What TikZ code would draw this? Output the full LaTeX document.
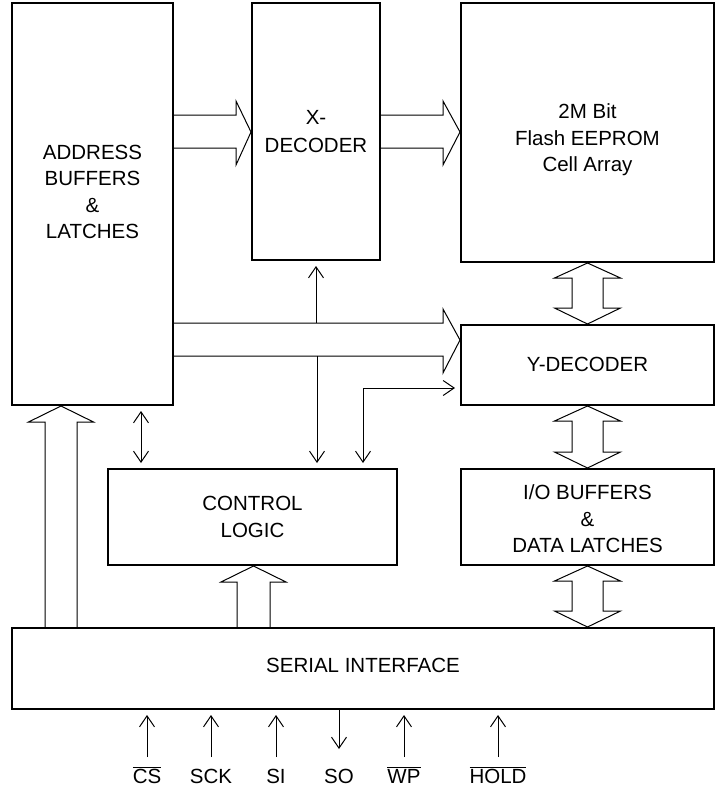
\documentclass[tikz,border=0pt]{standalone}
\usepackage{fontspec}
\setmainfont{Liberation Sans}
\usetikzlibrary{arrows.meta,calc}

\tikzset{
  block/.style={draw, line width=2pt, inner sep=0pt},
  blocktext/.style={align=center, inner sep=0pt, font=\fontsize{20.5}{26.5}\selectfont},
  bus/.style={line width=1pt, line join=miter},
  sig/.style={line width=1pt, -{Straight Barb[length=11pt,width=15pt]}},
  sigboth/.style={line width=1pt, {Straight Barb[length=11pt,width=15pt]}-{Straight Barb[length=11pt,width=15pt]}},
  pin/.style={font=\fontsize{20.5}{24}\selectfont, inner sep=0pt, anchor=base},
}

\begin{document}
\begin{tikzpicture}[x=1pt, y=-1pt]
    \useasboundingbox (0,0) rectangle (717,792);

    % blocks
    \node[block, minimum width=161pt, minimum height=402pt,
      label={[blocktext, yshift=12pt]center:ADDRESS\\BUFFERS\\\&\\LATCHES}] (addr) at (92.5,204) {};
    \node[block, minimum width=128pt, minimum height=257pt,
      label={[blocktext, font=\fontsize{20.5}{28}\selectfont]center:X-\\DECODER}] (xdec) at (316,131.5) {};
    \node[block, minimum width=253pt, minimum height=259pt,
      label={[blocktext, yshift=-7.5pt]center:2M Bit\\Flash EEPROM\\Cell Array}] (array) at (587.5,132.5) {};
    \node[block, minimum width=253pt, minimum height=80pt,
      label={[blocktext, yshift=1pt]center:Y-DECODER}] (ydec) at (587.5,365) {};
    \node[block, minimum width=289pt, minimum height=96pt,
      label={[blocktext]center:CONTROL\\LOGIC}] (ctrl) at (252.5,517) {};
    \node[block, minimum width=253pt, minimum height=96pt,
      label={[blocktext, yshift=-2pt]center:I/O BUFFERS\\\&\\DATA LATCHES}] (io) at (587.5,517) {};
    \node[block, minimum width=702pt, minimum height=81pt,
      label={[blocktext, yshift=3pt]center:SERIAL INTERFACE}] (serial) at (363,668.5) {};

    % wide buses
    \draw[bus] (addr.east |- 0,115) -- (236,115) -- (236,101) -- (xdec.west |- 0,132)
        -- (236,165) -- (236,148) -- (addr.east |- 0,148);
    \draw[bus] (xdec.east |- 0,115) -- (443,115) -- (443,101) -- (array.west |- 0,132)
        -- (443,165) -- (443,148) -- (xdec.east |- 0,148);
    \draw[bus] (addr.east |- 0,323) -- (443,323) -- (443,309) -- (ydec.west |- 0,340)
        -- (443,373) -- (443,356) -- (addr.east |- 0,356);
    \draw[bus] (serial.north -| 45,0) -- (45,422) -- (28.5,422) -- (addr.south -| 61,0)
        -- (93.5,422) -- (77,422) -- (serial.north -| 77,0);
    \draw[bus] (serial.north -| 237,0) -- (237,582) -- (221,582) -- (ctrl.south -| 253.5,0)
        -- (286,582) -- (270,582) -- (serial.north -| 270,0);
    \draw[bus] (array.south) -- ++(33,15) -- ++(-17.5,0) -- ($(ydec.north)+(15.5,-16)$) -- ++(17.5,0)
        -- (ydec.north) -- ++(-33,-16) -- ++(17.5,0) -- ($(array.south)+(-15.5,15)$) -- ++(-17.5,0) -- cycle;
    \draw[bus] (ydec.south) -- ++(33,15) -- ++(-17.5,0) -- ($(io.north)+(15.5,-16)$) -- ++(17.5,0)
        -- (io.north) -- ++(-33,-16) -- ++(17.5,0) -- ($(ydec.south)+(-15.5,15)$) -- ++(-17.5,0) -- cycle;
    \draw[bus] (io.south) -- ++(33,15) -- ++(-17.5,0) -- ($(serial.north -| io.south)+(15.5,-16)$) -- ++(17.5,0)
        -- (serial.north -| io.south) -- ++(-33,-16) -- ++(17.5,0) -- ($(io.south)+(-15.5,15)$) -- ++(-17.5,0) -- cycle;

    % control lines
    \draw[sig, shorten >=5pt] (xdec.south |- 0,323) -- (xdec.south);
    \draw[sig, shorten >=5pt] (317,356) -- (ctrl.north -| 317,0);
    \draw[sigboth, shorten <=5pt, shorten >=5pt] (ctrl.north -| 363,0) |- (ydec.west |- 0,388);
    \draw[sigboth, shorten <=5pt, shorten >=5pt] (addr.south -| 141,0) -- (ctrl.north -| 141,0);

    % pins
    \node[pin] (cs) at (147,783) {$\overline{\mbox{CS}}$};
    \node[pin] (sck) at (211,783) {SCK};
    \node[pin] (si) at (276,783) {SI};
    \node[pin] (so) at (339,783) {SO};
    \node[pin] (wp) at (404,783) {$\overline{\mbox{WP}}$};
    \node[pin] (hold) at (498,783) {$\overline{\mbox{HOLD}}$};

    \draw[sig, shorten >=5pt] (cs |- 0,757) -- (cs |- serial.south);
    \draw[sig, shorten >=5pt] (sck |- 0,757) -- (sck |- serial.south);
    \draw[sig, shorten >=5pt] (si |- 0,757) -- (si |- serial.south);
    \draw[sig] (so |- serial.south) -- (so |- 0,749);
    \draw[sig, shorten >=5pt] (wp |- 0,757) -- (wp |- serial.south);
    \draw[sig, shorten >=5pt] (hold |- 0,757) -- (hold |- serial.south);
\end{tikzpicture}
\end{document}
